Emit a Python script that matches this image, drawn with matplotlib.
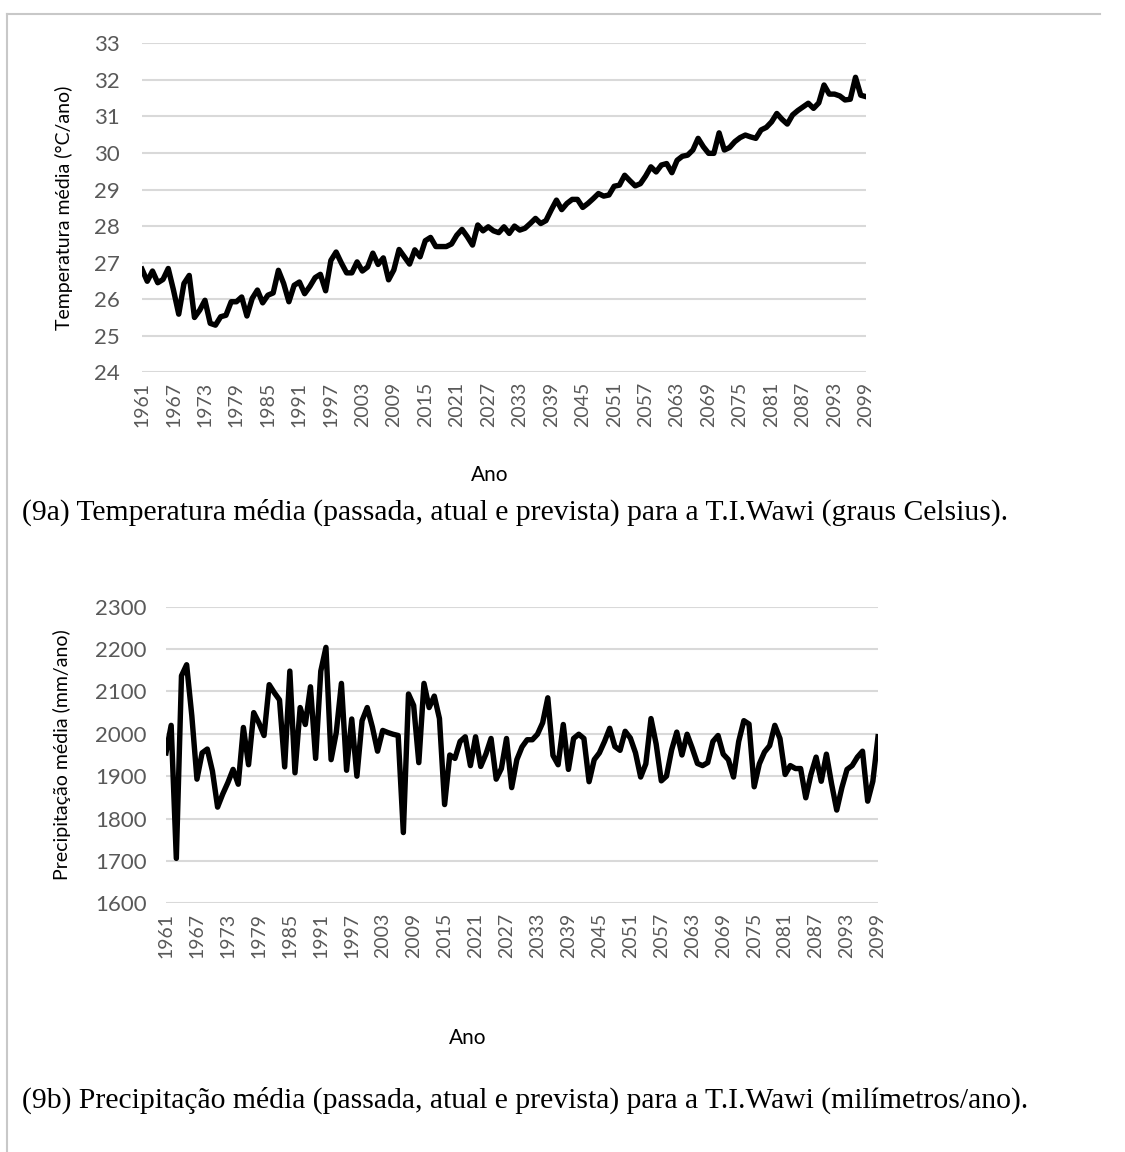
import matplotlib.pyplot as plt
from matplotlib.lines import Line2D
import numpy as np

# years on the x axis (one value per year)
years = list(range(1961, 2100))
tick_years = years[::6]

# mean temperature (degC/year)
temperatura = [
    26.82, 26.49, 26.77, 26.45, 26.54, 26.84, 26.25, 25.59, 26.43, 26.65,
    25.50, 25.70, 25.97, 25.34, 25.29, 25.52, 25.56, 25.93, 25.93, 26.06,
    25.54, 26.02, 26.25, 25.90, 26.11, 26.17, 26.79, 26.43, 25.93, 26.38,
    26.47, 26.15, 26.35, 26.59, 26.68, 26.23, 27.06, 27.29, 26.99, 26.72,
    26.72, 27.02, 26.77, 26.88, 27.26, 26.95, 27.13, 26.53, 26.80, 27.36,
    27.16, 26.96, 27.35, 27.16, 27.60, 27.69, 27.44, 27.44, 27.44, 27.51,
    27.75, 27.91, 27.71, 27.48, 28.03, 27.87, 27.98, 27.87, 27.82, 27.98,
    27.80, 28.00, 27.89, 27.94, 28.07, 28.21, 28.07, 28.15, 28.44, 28.71,
    28.45, 28.62, 28.73, 28.73, 28.51, 28.62, 28.75, 28.89, 28.82, 28.85,
    29.09, 29.12, 29.39, 29.24, 29.10, 29.16, 29.37, 29.62, 29.48, 29.67,
    29.71, 29.46, 29.80, 29.91, 29.94, 30.08, 30.40, 30.17, 29.99, 29.99,
    30.55, 30.08, 30.15, 30.31, 30.42, 30.49, 30.44, 30.40, 30.63, 30.70,
    30.85, 31.08, 30.92, 30.79, 31.04, 31.16, 31.26, 31.36, 31.22, 31.37,
    31.86, 31.61, 31.61, 31.56, 31.45, 31.47, 32.07, 31.58, 31.54,
]

# mean precipitation (mm/year)
precipitacao = [
    1955, 2020, 1706, 2137, 2163, 2043, 1893, 1955, 1964, 1912,
    1827, 1858, 1885, 1916, 1881, 2015, 1927, 2050, 2026, 1996,
    2116, 2097, 2080, 1922, 2148, 1908, 2062, 2022, 2111, 1942,
    2148, 2204, 1939, 2003, 2119, 1914, 2035, 1900, 2031, 2062,
    2016, 1959, 2008, 2003, 1999, 1996, 1767, 2094, 2067, 1932,
    2119, 2062, 2089, 2036, 1833, 1950, 1942, 1982, 1993, 1925,
    1993, 1923, 1952, 1989, 1893, 1918, 1989, 1873, 1939, 1969,
    1986, 1986, 1999, 2026, 2085, 1949, 1927, 2022, 1916, 1989,
    1999, 1989, 1887, 1939, 1955, 1982, 2013, 1970, 1961, 2006,
    1990, 1955, 1898, 1929, 2036, 1976, 1889, 1900, 1962, 2004,
    1950, 1999, 1966, 1930, 1925, 1932, 1982, 1996, 1952, 1939,
    1898, 1982, 2031, 2023, 1875, 1929, 1957, 1972, 2020, 1989,
    1904, 1925, 1918, 1918, 1849, 1904, 1945, 1888, 1952, 1882,
    1820, 1873, 1916, 1925, 1945, 1959, 1841, 1888, 1993,
]

W, H = 1125, 1152
fig = plt.figure(figsize=(W / 100, H / 100), dpi=100)

sans = ['Lato', 'DejaVu Sans']
tick_gray = '#595959'
grid_gray = '#d9d9d9'


def px(x0, y0, x1, y1):
    # pixel box (top-left origin) -> figure fraction rect
    return [x0 / W, 1 - y1 / H, (x1 - x0) / W, (y1 - y0) / H]


def draw_panel(rect, values, ylim, ystep, ypad):
    ax = fig.add_axes(rect)
    ax.plot(years, values, color='black', lw=3.9, solid_joinstyle='round', zorder=3)
    ax.set_xlim(years[0], years[-1])
    ax.set_ylim(*ylim)
    ax.set_yticks(np.arange(ylim[0], ylim[1] + ystep / 2, ystep))
    ax.set_xticks(tick_years)
    ax.set_xticklabels([str(y) for y in tick_years], rotation=90)
    ax.grid(axis='y', color=grid_gray, lw=1.5, zorder=0)
    ax.set_axisbelow(True)
    for s in ax.spines.values():
        s.set_visible(False)
    ax.tick_params(axis='both', length=0, colors=tick_gray)
    ax.tick_params(axis='y', pad=ypad, labelsize=16)
    ax.tick_params(axis='x', pad=7, labelsize=14)
    for lab in ax.get_xticklabels() + ax.get_yticklabels():
        lab.set_family(sans)
    return ax


# (9a) temperature
draw_panel(px(142, 43.3, 866, 372.3), temperatura, (24, 33), 1, 16)
fig.text(64 / W, 1 - 208 / H, 'Temperatura média (°C/ano)', rotation=90,
         ha='center', va='center', fontsize=14, family=sans)
fig.text(490 / W, 1 - 475 / H, 'Ano', ha='center', va='center', fontsize=15, family=sans)
fig.text(22 / W, 1 - 512 / H,
         '(9a) Temperatura média (passada, atual e prevista) para a T.I.Wawi (graus Celsius).',
         ha='left', va='center', fontsize=21.3, family='Liberation Serif')

# (9b) precipitation
draw_panel(px(166, 606.7, 878, 903.3), precipitacao, (1600, 2300), 100, 14)
fig.text(62 / W, 1 - 755 / H, 'Precipitação média (mm/ano)', rotation=90,
         ha='center', va='center', fontsize=14, family=sans)
fig.text(468 / W, 1 - 1038 / H, 'Ano', ha='center', va='center', fontsize=15, family=sans)
fig.text(22 / W, 1 - 1100 / H,
         '(9b) Precipitação média (passada, atual e prevista) para a T.I.Wawi (milímetros/ano).',
         ha='left', va='center', fontsize=21.3, family='Liberation Serif')

# light frame around the figure (top and left edges)
frame = '#c8c8c8'
fig.add_artist(Line2D([7 / W, 1100 / W], [1 - 14 / H, 1 - 14 / H], color=frame, lw=1.5))
fig.add_artist(Line2D([7 / W, 7 / W], [1 - 14 / H, 0], color=frame, lw=1.5))

fig.savefig('out.png', dpi=100)
